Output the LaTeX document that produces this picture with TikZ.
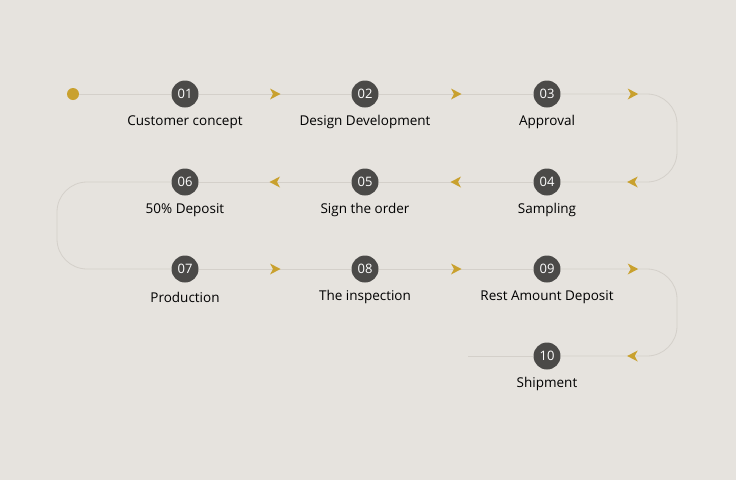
\documentclass[tikz,border=0pt]{standalone}
\usepackage{fontspec}
\setmainfont{Open Sans}
\usetikzlibrary{decorations.markings}
\definecolor{bgcol}{HTML}{E6E3DE}
\definecolor{dotgrey}{HTML}{4B4A48}
\definecolor{gold}{HTML}{C9A12E}
\definecolor{linegrey}{HTML}{D4D0CA}
\newcommand\goldtip{\fill[gold,sharp corners] (5.5,0) -- (-5,-5.5) -- (-2,0) -- (-5,5.5) -- cycle;}
\begin{document}
\begin{tikzpicture}[x=1pt,y=-1pt,
    stepdot/.style={circle,fill=dotgrey,text=white,minimum size=27pt,inner sep=0pt,
      font=\fontsize{13}{13}\selectfont},
    steplabel/.style={text=black,font=\fontsize{13.5}{15}\selectfont},
    pathline/.style={draw=linegrey,line width=0.8pt},
    tipmid/.style={postaction={decorate,decoration={markings,
      mark=at position 0.5 with {\goldtip}}}},
    tipends/.style={postaction={decorate,decoration={markings,
      mark=at position 72pt with {\goldtip},
      mark=at position -72pt with {\goldtip}}}}]
  \fill[bgcol] (0,0) rectangle (736,480);
  \useasboundingbox (0,0) rectangle (736,480);
  \def \Steps{
    01/185/94/Customer concept,
    02/365/94/Design Development,
    03/547/94/Approval,
    04/547/182/Sampling,
    05/365/182/Sign the order,
    06/185/182/50\% Deposit,
    07/185/269/Production,
    08/365/269/The inspection,
    09/547/269/Rest Amount Deposit,
    10/547/356/Shipment}
  \foreach \id / \x / \y / \txt in \Steps{
    \node[stepdot] (s\id) at (\x, \y) {\id};
    \node[steplabel] (l\id) at (\x, \y+28) {\txt};
  }
  \node[circle,fill=gold,minimum size=12pt,inner sep=0pt] (start) at (73,94) {};
  % turning points
  \coordinate (r1) at (677,94);
  \coordinate (r2) at (677,182);
  \coordinate (l1) at (57,182);
  \coordinate (l2) at (57,269);
  \coordinate (r3) at (677,269);
  \coordinate (r4) at (677,356);
  \coordinate (tail) at (468,356);
  \path[pathline] (start) -- (s01);
  \path[pathline,tipmid] (s01) -- (s02);
  \path[pathline,tipmid] (s02) -- (s03);
  \path[pathline,tipends,rounded corners=30pt] (s03) -- (r1) -- (r2) -- (s04);
  \path[pathline,tipmid] (s04) -- (s05);
  \path[pathline,tipmid] (s05) -- (s06);
  \path[pathline,rounded corners=30pt] (s06) -- (l1) -- (l2) -- (s07);
  \path[pathline,tipmid] (s07) -- (s08);
  \path[pathline,tipmid] (s08) -- (s09);
  \path[pathline,tipends,rounded corners=30pt] (s09) -- (r3) -- (r4) -- (s10);
  \path[pathline] (s10) -- (tail);
\end{tikzpicture}
\end{document}
